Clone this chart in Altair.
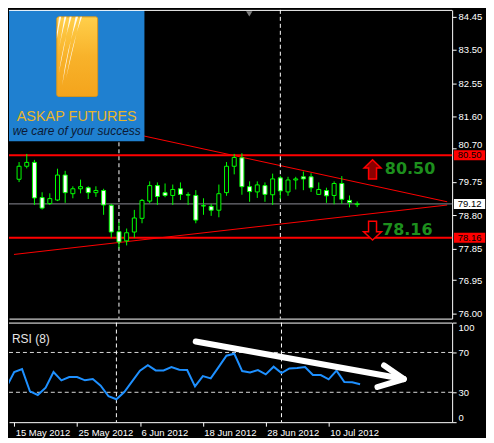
import altair as alt
import pandas as pd

# ---------------- data ----------------
dates = ["2012-05-15", "2012-05-16", "2012-05-17", "2012-05-18", "2012-05-21", "2012-05-22",
         "2012-05-23", "2012-05-24", "2012-05-25", "2012-05-28", "2012-05-29", "2012-05-30",
         "2012-05-31", "2012-06-01", "2012-06-04", "2012-06-05", "2012-06-06", "2012-06-07",
         "2012-06-08", "2012-06-11", "2012-06-12", "2012-06-13", "2012-06-14", "2012-06-15",
         "2012-06-18", "2012-06-19", "2012-06-20", "2012-06-21", "2012-06-22", "2012-06-25",
         "2012-06-26", "2012-06-27", "2012-06-28", "2012-06-29", "2012-07-02", "2012-07-03",
         "2012-07-04", "2012-07-05", "2012-07-06", "2012-07-09", "2012-07-10", "2012-07-11",
         "2012-07-12", "2012-07-13", "2012-07-16"]
opens = [79.82, 80.19, 80.30, 79.30, 79.13, 79.23, 79.94, 79.41, 79.55, 79.58, 79.44, 79.50,
         79.08, 78.33, 78.07, 78.32, 78.71, 79.20, 79.64, 79.44, 79.36, 79.55, 79.38, 79.36,
         79.07, 79.05, 78.94, 79.44, 80.19, 80.43, 79.61, 79.46, 79.64, 79.38, 79.86, 79.46,
         79.80, 79.89, 79.89, 79.39, 79.50, 79.36, 79.70, 79.22, 79.10]
highs = [80.31, 80.54, 80.37, 79.45, 79.42, 80.12, 80.06, 79.62, 79.81, 79.62, 79.62, 79.55,
         79.12, 78.61, 78.42, 78.95, 79.26, 79.76, 79.73, 79.70, 79.67, 79.73, 79.45, 79.51,
         79.28, 79.12, 79.67, 80.31, 80.54, 80.56, 79.76, 79.76, 79.73, 79.98, 79.92, 79.89,
         79.89, 80.04, 79.99, 79.73, 79.58, 79.76, 79.91, 79.36, 79.19]
lows = [79.74, 80.13, 79.09, 78.96, 79.09, 79.20, 79.15, 79.28, 79.42, 79.26, 79.32, 78.81,
        78.16, 77.85, 77.94, 78.16, 78.57, 79.14, 79.09, 79.31, 79.09, 79.23, 79.09, 78.57,
        78.81, 78.78, 78.74, 79.35, 79.96, 79.38, 79.18, 79.29, 79.18, 79.09, 79.25, 79.35,
        79.53, 79.51, 79.46, 79.39, 79.15, 79.11, 79.12, 79.02, 79.03]
closes = [80.19, 80.30, 79.29, 79.00, 79.27, 79.94, 79.44, 79.55, 79.61, 79.44, 79.50, 79.09,
          78.32, 78.04, 78.30, 78.72, 79.22, 79.64, 79.33, 79.36, 79.53, 79.39, 79.37, 78.66,
          79.06, 78.94, 79.41, 80.19, 80.44, 79.61, 79.47, 79.66, 79.39, 79.83, 79.49, 79.80,
          79.83, 79.83, 79.58, 79.53, 79.35, 79.70, 79.25, 79.16, 79.12]

rsi_idx = list(range(-1, 45))
rsi_values = [35.0, 50.3, 53.3, 31.0, 27.3, 34.7, 50.3, 42.0, 45.3, 45.3, 42.0, 43.3, 36.7,
              26.0, 23.0, 30.3, 41.0, 51.7, 57.3, 52.0, 52.0, 55.3, 52.7, 52.3, 36.0, 46.3,
              44.0, 55.3, 66.7, 68.7, 51.3, 50.0, 52.3, 48.0, 55.7, 49.3, 54.0, 54.3, 55.3,
              47.3, 47.3, 43.0, 51.7, 40.3, 40.0, 38.0]

price_ticks = [84.45, 83.50, 82.55, 81.60, 80.70, 79.75, 78.80, 77.85, 76.95, 76.00]
rsi_ticks = [0, 30, 70, 100]
rsi_levels = [70, 30]
date_tick_idx = [0, 8, 16, 24, 32, 40]
date_tick_labels = ["15 May 2012", "25 May 2012", "6 Jun 2012", "18 Jun 2012",
                    "28 Jun 2012", "10 Jul 2012"]
separator_idx = [13, 34]
level_prices = [80.50, 78.16]
bid_price = 79.12
box_prices = [80.50, 78.16, 79.12]
box_labels = ["80.50", "78.16", "79.12"]
box_fills = ["#ff0000", "#ff0000", "#ffffff"]

trend_x0 = [-0.6625, -0.6625]
trend_y0 = [81.851, 77.683]
trend_x1 = [55.71, 55.71]
trend_y1 = [79.18, 79.088]

ann_arrow_idx = [46.0, 46.0]
ann_arrow_price = [80.10, 78.36]
ann_text_idx = [47.6, 47.25]
ann_text_price = [80.12, 78.37]
ann_text = ["80.50", "78.16"]

rsi_arrow_x0 = [23.09, 49.55, 49.55]
rsi_arrow_y0 = [81.0, 43.3, 43.3]
rsi_arrow_x1 = [49.55, 47.05, 46.21]
rsi_arrow_y1 = [43.3, 57.0, 35.3]

shift_marker_idx = [29.96]

# ---------------- layout ----------------
W, H1, H2 = 445, 310, 100
X_DOM = [-0.6625, 55.71]
P_DOM = [75.86, 84.634]
LW, LH = 136, 132
FONT = "Liberation Sans"
LIME = "#00ff00"

xs = alt.Scale(domain=X_DOM, nice=False, zero=False)
ps = alt.Scale(domain=P_DOM, nice=False, zero=False)
rs = alt.Scale(domain=[0, 100], nice=False, zero=False)

x_axis_main = alt.Axis(labels=False, ticks=False, domain=True, title=None, grid=False)
y_axis_main = alt.Axis(orient="right", values=price_ticks, format=".2f", tickSize=4,
                       labelPadding=2, title=None, grid=False, labelOverlap=False,
                       labelOffset={"condition": {"test": "abs(datum.value - 80.7) < 0.001",
                                                  "value": -4},
                                    "value": 0})

label_expr = ("[" + ",".join("'%s'" % s for s in date_tick_labels) + "][indexof(["
              + ",".join(str(v) for v in date_tick_idx) + "], datum.value)]")
x_axis_rsi = alt.Axis(values=date_tick_idx, labelExpr=label_expr, labelAlign="left",
                      labelBaseline="top", labelOffset=1, tickSize=4, labelPadding=1,
                      labelFlush=False, labelOverlap=False, title=None, grid=False)
y_axis_rsi = alt.Axis(orient="right", values=rsi_ticks, labelFlush=True, tickSize=4,
                      labelPadding=2, title=None, grid=False, labelOverlap=False)


def XM(f):
    return alt.X(f, type="quantitative", scale=xs, axis=x_axis_main)


def YM(f):
    return alt.Y(f, type="quantitative", scale=ps, axis=y_axis_main)


def XR(f):
    return alt.X(f, type="quantitative", scale=xs, axis=x_axis_rsi)


def YR(f):
    return alt.Y(f, type="quantitative", scale=rs, axis=y_axis_rsi)


candles = pd.DataFrame({"idx": list(range(len(dates))), "date": dates, "open": opens,
                        "high": highs, "low": lows, "close": closes})
one = pd.DataFrame({"k": [0]})

# ---------------- main panel ----------------
trend = alt.Chart(pd.DataFrame({"x0": trend_x0, "y0": trend_y0, "x1": trend_x1, "y1": trend_y1})
                  ).mark_rule(color="#ff0000", strokeWidth=1, clip=True).encode(
    x=XM("x0"), y=YM("y0"), x2="x1", y2="y1")

levels = alt.Chart(pd.DataFrame({"p": level_prices})).mark_rule(
    color="#ff0000", strokeWidth=2).encode(y=YM("p"))
bid = alt.Chart(pd.DataFrame({"p": [bid_price]})).mark_rule(
    color="#8c8c96", strokeWidth=1).encode(y=YM("p"))

seps_main = alt.Chart(pd.DataFrame({"i": separator_idx})).mark_rule(
    color="white", strokeDash=[4, 3], strokeWidth=1).encode(x=XM("i"))

wicks = alt.Chart(candles).mark_rule(color=LIME, strokeWidth=1, clip=True).encode(
    x=XM("idx"), y=YM("low"), y2="high")
bodies = alt.Chart(candles).mark_bar(size=4, stroke=LIME, strokeWidth=1, clip=True).encode(
    x=XM("idx"), y=YM("open"), y2="close",
    fill=alt.condition("datum.close < datum.open", alt.value("white"), alt.value("black")))

logo_bg = alt.Chart(one).mark_rect(color="#1f80d0").encode(
    x=alt.value(0), x2=alt.value(LW), y=alt.value(0), y2=alt.value(LH))
logo_card = alt.Chart(one).mark_rect(
    cornerRadius=2, stroke="#d8961c", strokeWidth=1,
    color=alt.LinearGradient(gradient="linear", x1=0, x2=0, y1=0, y2=1,
                             stops=[alt.GradientStop(color="#ffcf4a", offset=0),
                                    alt.GradientStop(color="#f8b22a", offset=0.5),
                                    alt.GradientStop(color="#f4a41c", offset=1)])).encode(
    x=alt.value(48), x2=alt.value(89), y=alt.value(7), y2=alt.value(87))
STREAKS = ("M-0.40,-1 Q-0.47,-0.75 -0.51,-0.45 L-0.51,-0.62 Q-0.48,-0.8 -0.45,-1 Z "
           "M-0.27,-1 Q-0.42,-0.45 -0.50,0.05 Q-0.40,-0.5 -0.32,-1 Z "
           "M-0.14,-1 Q-0.36,-0.3 -0.46,0.40 Q-0.30,-0.35 -0.19,-1 Z "
           "M0.02,-1 Q-0.26,-0.2 -0.38,0.72 Q-0.19,-0.25 -0.04,-1 Z "
           "M0.12,-1 Q-0.12,-0.35 -0.28,0.55 Q-0.07,-0.35 0.08,-1 Z")
logo_streaks = alt.Chart(one).mark_point(shape=STREAKS, filled=True, color="white",
                                         opacity=0.9, size=6400, strokeWidth=0).encode(
    x=alt.value(68.5), y=alt.value(47))
logo_t1 = alt.Chart(one).mark_text(text="ASKAP FUTURES", font=FONT, fontSize=14.5,
                                   color="#e8b52a", align="center", baseline="alphabetic").encode(
    x=alt.value(LW / 2), y=alt.value(112))
logo_t2 = alt.Chart(one).mark_text(text="we care of your success", font=FONT, fontSize=12,
                                   fontStyle="italic", color="#0c1a35", align="center",
                                   baseline="alphabetic").encode(
    x=alt.value(LW / 2), y=alt.value(126))

UP = "M0,-0.97 L0.85,-0.14 L0.4,-0.14 L0.4,0.96 L-0.4,0.96 L-0.4,-0.14 L-0.85,-0.14 Z"
DOWN = "M-0.4,-0.95 L0.4,-0.95 L0.4,0.11 L0.9,0.11 L0,0.95 L-0.9,0.11 L-0.4,0.11 Z"
arrows_df = pd.DataFrame({"i": ann_arrow_idx, "p": ann_arrow_price})
up_arrow = alt.Chart(arrows_df.iloc[[0]]).mark_point(
    shape=UP, filled=True, fill="#8b0000", stroke="#ff0000", strokeWidth=1.5, size=400,
    opacity=1).encode(x=XM("i"), y=YM("p"))
down_arrow = alt.Chart(arrows_df.iloc[[1]]).mark_point(
    shape=DOWN, filled=True, fill="#000000", stroke="#ff0000", strokeWidth=1.5, size=400,
    opacity=1).encode(x=XM("i"), y=YM("p"))
ann_texts = alt.Chart(pd.DataFrame({"i": ann_text_idx, "p": ann_text_price, "t": ann_text})
                      ).mark_text(align="left", baseline="middle", font="DejaVu Sans",
                                  fontWeight="bold", fontSize=16, color="#1d8f1d").encode(
    x=XM("i"), y=YM("p"), text="t:N")

BOX = "M-1,-0.32 L1,-0.32 L1,0.32 L-1,0.32 Z"
boxes_df = pd.DataFrame({"p": box_prices, "t": box_labels, "bg": box_fills})
price_boxes = alt.Chart(boxes_df).mark_point(shape=BOX, filled=True, size=985, opacity=1,
                                             strokeWidth=0).encode(
    x=alt.value(W + 17.5), y=YM("p"), fill=alt.Fill("bg:N", scale=None))
price_box_text = alt.Chart(boxes_df).mark_text(font=FONT, fontSize=9.5, color="black",
                                               align="center", baseline="middle").encode(
    x=alt.value(W + 17.5), y=YM("p"), text="t:N")

shift_marker = alt.Chart(pd.DataFrame({"i": shift_marker_idx})).mark_point(
    shape="triangle-down", filled=True, color="#808080", size=40, opacity=1).encode(
    x=XM("i"), y=alt.value(4))

top_border_main = alt.Chart(one).mark_rule(color="white", strokeWidth=1).encode(
    x=alt.value(0), x2=alt.value(W), y=alt.value(0.5))

main = alt.layer(trend, levels, bid, seps_main, wicks, bodies, logo_bg, logo_card,
                 logo_streaks, logo_t1, logo_t2, up_arrow, down_arrow, ann_texts,
                 price_boxes, price_box_text, shift_marker, top_border_main
                 ).properties(width=W, height=H1)

# ---------------- RSI panel ----------------
rsi_df = pd.DataFrame({"idx": rsi_idx, "rsi": rsi_values})
rsi_lv = alt.Chart(pd.DataFrame({"v": rsi_levels})).mark_rule(
    color="#d8d8d8", strokeDash=[4, 3], strokeWidth=1).encode(y=YR("v"))
seps_rsi = alt.Chart(pd.DataFrame({"i": separator_idx})).mark_rule(
    color="white", strokeDash=[4, 3], strokeWidth=1).encode(x=XR("i"))
rsi_line = alt.Chart(rsi_df).mark_line(color="#1e90ff", strokeWidth=2, clip=True).encode(
    x=XR("idx"), y=YR("rsi"))
rsi_arrow = alt.Chart(pd.DataFrame({"x0": rsi_arrow_x0, "y0": rsi_arrow_y0,
                                    "x1": rsi_arrow_x1, "y1": rsi_arrow_y1})).mark_rule(
    color="white", strokeWidth=6, strokeCap="round").encode(
    x=XR("x0"), y=YR("y0"), x2="x1", y2="y1")
rsi_title = alt.Chart(one).mark_text(text="RSI (8)", font=FONT, fontSize=12, color="#e6e6e6",
                                     align="left", baseline="middle").encode(
    x=alt.value(3), y=alt.value(17))
top_border_rsi = alt.Chart(one).mark_rule(color="white", strokeWidth=1).encode(
    x=alt.value(0), x2=alt.value(W), y=alt.value(0.5))

rsi = alt.layer(rsi_lv, seps_rsi, rsi_line, rsi_arrow, rsi_title, top_border_rsi
                ).properties(width=W, height=H2)

chart = alt.vconcat(main, rsi, spacing=2).properties(
    background="black", padding=0
).configure_view(stroke=None, fill="black").configure_axis(
    labelFont=FONT, labelFontSize=9.5, labelColor="white", tickColor="white",
    domainColor="white", grid=False
)

chart.save("out.html", embed_options={"renderer": "svg", "actions": False})
